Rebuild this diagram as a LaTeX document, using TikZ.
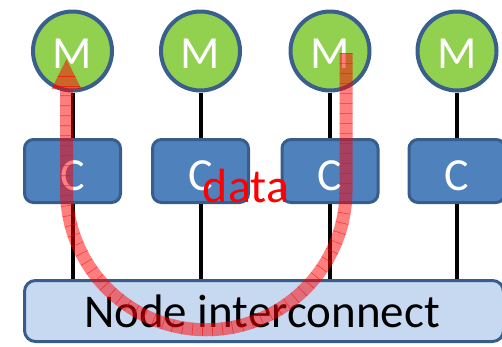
\documentclass[tikz,border=0pt]{standalone}
\usepackage{fontspec}
\setmainfont{Carlito}
\definecolor{mgreen}{HTML}{92D050}
\definecolor{mborder}{HTML}{3B5F8C}
\definecolor{cblue}{HTML}{4F81BD}
\definecolor{cborder}{HTML}{385D8A}
\definecolor{icfill}{HTML}{C6D9F1}
\begin{document}
\begin{tikzpicture}[x=1pt,y=-1pt,
  mem/.style={circle, draw=mborder, fill=mgreen, line width=4pt, minimum size=79pt, inner sep=0pt},
  cache/.style={rectangle, rounded corners=9pt, draw=cborder, fill=cblue, line width=3pt, minimum width=96pt, minimum height=63pt, inner sep=0pt},
  icbox/.style={rectangle, rounded corners=11pt, draw=cborder, fill=icfill, line width=3pt, minimum width=479pt, minimum height=61pt, inner sep=0pt},
  bigtext/.style={inner sep=0pt, font=\fontsize{46}{46}\selectfont},
  wire/.style={line width=4pt, black},
  band/.style={line width=13pt, draw=red, draw opacity=0.5},
  stripes/.style={line width=13pt, draw=red, draw opacity=0.6, dash pattern=on 0.6pt off 9.4pt}
]
\useasboundingbox (0,0) rectangle (502,346);
\clip (0,0) rectangle (502,346);
% memories
\foreach \i/\x in {1/72.5,2/200.5,3/330,4/457}{
  \node[mem] (m\i) at (\x,51) {};
  \node[bigtext, text=white] (mt\i) at (\x,53.5) {M};
  \node[cache] (c\i) at (\x,171) {};
  \node[bigtext, text=white] (ct\i) at (\x,175.5) {C};
}
% interconnect
\node[icbox] (ic) at (264,311) {};
\node[bigtext, anchor=base, font=\fontsize{47}{47}\selectfont] (ict) at (262,327) {Node interconnect};
% wires
\foreach \i in {1,2,3,4}{
  \draw[wire] (m\i.south) -- (c\i.north);
  \draw[wire] (c\i.south) -- (c\i.south |- ic.north);
}
% data arrow
\coordinate (a0) at (346,53);
\coordinate (a1) at (346,190);
\coordinate (a2) at (66.5,89);
\coordinate (tip) at (66.5,59);
\coordinate (hl) at (51.5,89);
\coordinate (hr) at (81.5,89);
\draw[band] (a0) -- (a1) arc[start angle=0, end angle=180, radius=139.75] -- (a2);
\draw[stripes] (a0) -- (a1) arc[start angle=0, end angle=180, radius=139.75] -- (a2);
\fill[red, fill opacity=0.5] (hl) -- (hr) -- (tip) -- cycle;
\begin{scope}
  \clip (hl) -- (hr) -- (tip) -- cycle;
  \draw[red, line width=0.6pt, opacity=0.6] (40,86) -- (90,86) (40,76) -- (90,76);
\end{scope}
\node[anchor=base, inner sep=0pt, text=red, font=\fontsize{48}{48}\selectfont] (data) at (246,202) {data};
\end{tikzpicture}
\end{document}
